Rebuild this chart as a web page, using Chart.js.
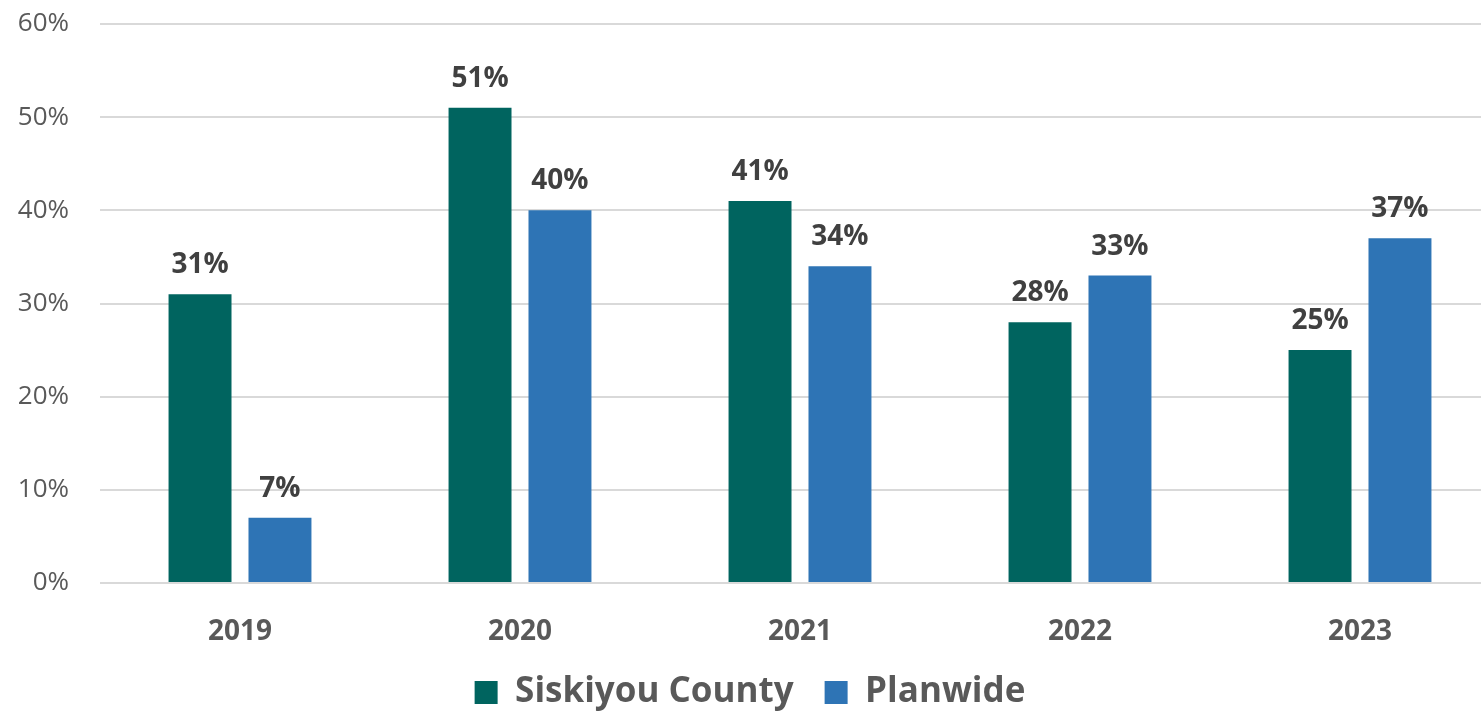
<!DOCTYPE html>
<html>
<head>
<meta charset="utf-8">
<script src="https://cdn.jsdelivr.net/npm/chart.js@4/dist/chart.umd.min.js"></script>
<style>
  html, body { margin: 0; padding: 0; background: #fff; overflow: hidden; }
  #wrap { width: 1500px; height: 713px; }
</style>
</head>
<body>
<div id="wrap"><canvas id="myChart"></canvas></div>
<script>
const YEARS = ['2019', '2020', '2021', '2022', '2023'];
const SISKIYOU = [31, 51, 41, 28, 25];
const PLANWIDE = [7, 40, 34, 33, 37];

const FONT = "'Open Sans', sans-serif";
const TEAL = '#00645F';
const BLUE = '#2E74B5';

// draws the "31%" style labels above each bar
const barLabels = {
  id: 'barLabels',
  afterDatasetsDraw(chart) {
    const ctx = chart.ctx;
    ctx.save();
    ctx.font = `bold 28px ${FONT}`;
    ctx.fillStyle = '#404040';
    ctx.textAlign = 'center';
    ctx.textBaseline = 'middle';
    chart.data.datasets.forEach((ds, i) => {
      chart.getDatasetMeta(i).data.forEach((bar, j) => {
        ctx.fillText(ds.data[j] + '%', bar.x, bar.y - 29);
      });
    });
    ctx.restore();
  },
};

new Chart(document.getElementById('myChart'), {
  type: 'bar',
  data: {
    labels: YEARS,
    datasets: [
      { label: 'Siskiyou County', data: SISKIYOU, backgroundColor: TEAL },
      { label: 'Planwide', data: PLANWIDE, backgroundColor: BLUE },
    ],
  },
  options: {
    responsive: true,
    maintainAspectRatio: false,
    animation: false,
    categoryPercentage: 0.571,
    barPercentage: 0.7875,
    layout: { padding: { top: 24, left: 0, right: 0, bottom: 0 } },
    scales: {
      x: {
        grid: { display: false },
        border: { display: false },
        ticks: {
          color: '#595959',
          font: { family: FONT, size: 28, weight: 'bold' },
          padding: 24,
        },
        afterFit: (scale) => { scale.height = 61; },
      },
      y: {
        min: 0,
        max: 60,
        ticks: {
          stepSize: 10,
          color: '#595959',
          font: { family: FONT, size: 26 },
          padding: 31,
          callback: v => v + '%',
        },
        grid: { color: '#D9D9D9', lineWidth: 2, drawTicks: false },
        border: { display: false },
        afterFit: (scale) => {
          scale.width = 100;
          scale.paddingTop = 0;
          scale.paddingBottom = 0;
        },
      },
    },
    plugins: {
      legend: {
        position: 'bottom',
        maxHeight: 69,
        labels: {
          color: '#595959',
          font: { family: FONT, size: 35, weight: 'bold' },
          boxWidth: 23,
          boxHeight: 23,
          padding: 31,
        },
      },
      tooltip: { enabled: false },
    },
  },
  plugins: [barLabels],
});
</script>
</body>
</html>
